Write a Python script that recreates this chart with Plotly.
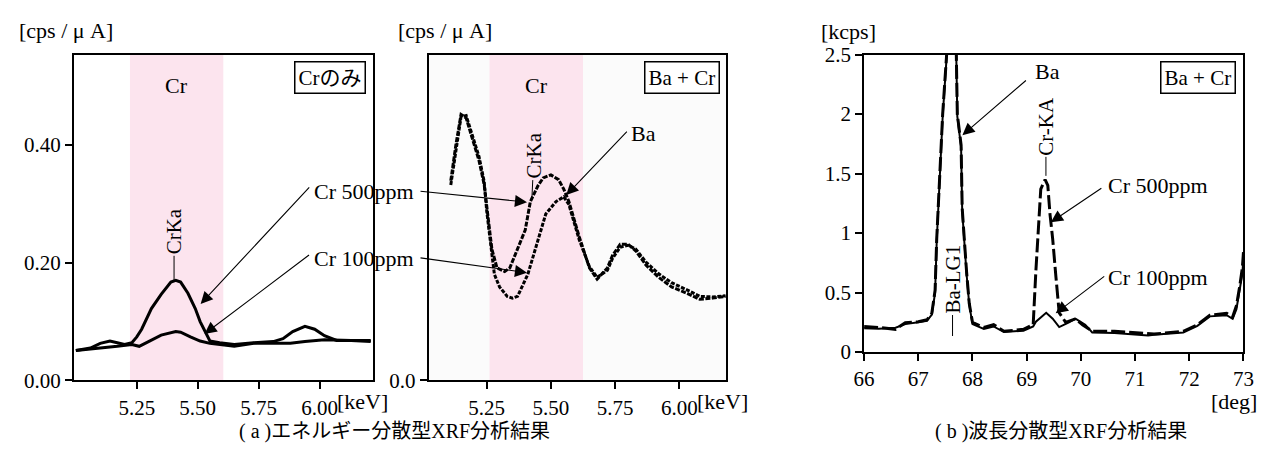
import plotly.graph_objects as go

# ---------------- data ----------------
# (a) EDX, Cr only  [cps/uA] vs [keV]
e1_x_500 = [5.00, 5.06, 5.10, 5.14, 5.17, 5.20, 5.23, 5.25, 5.27, 5.31, 5.35, 5.39, 5.41, 5.43, 5.46, 5.49,
            5.51, 5.53, 5.55, 5.59, 5.65, 5.73, 5.81, 5.85, 5.89, 5.94, 5.98, 6.02, 6.07, 6.13, 6.21]
e1_y_500 = [0.051, 0.055, 0.063, 0.067, 0.064, 0.061, 0.064, 0.074, 0.087, 0.122, 0.146, 0.167, 0.170, 0.167,
            0.148, 0.122, 0.100, 0.082, 0.067, 0.064, 0.061, 0.064, 0.066, 0.071, 0.083, 0.092, 0.087, 0.076,
            0.068, 0.068, 0.066]
e1_x_100 = [5.00, 5.06, 5.10, 5.14, 5.17, 5.20, 5.23, 5.26, 5.30, 5.35, 5.41, 5.43, 5.47, 5.51, 5.55, 5.59,
            5.65, 5.73, 5.88, 5.94, 6.02, 6.13, 6.21]
e1_y_100 = [0.051, 0.054, 0.056, 0.057, 0.058, 0.060, 0.061, 0.058, 0.067, 0.077, 0.083, 0.082, 0.074, 0.067,
            0.063, 0.061, 0.058, 0.063, 0.063, 0.066, 0.069, 0.068, 0.068]

# (a) EDX, Ba + Cr
e2_x_500 = [5.11, 5.13, 5.15, 5.17, 5.19, 5.22, 5.24, 5.25, 5.27, 5.29, 5.32, 5.34, 5.37, 5.40, 5.42, 5.45,
            5.47, 5.50, 5.53, 5.55, 5.57, 5.61, 5.65, 5.68, 5.72, 5.74, 5.77, 5.80, 5.83, 5.87, 5.92, 5.97,
            6.03, 6.08, 6.13, 6.18]
e2_y_500 = [0.337, 0.398, 0.449, 0.443, 0.414, 0.371, 0.331, 0.291, 0.222, 0.190, 0.184, 0.190, 0.222, 0.254,
            0.302, 0.329, 0.342, 0.347, 0.339, 0.323, 0.302, 0.243, 0.190, 0.171, 0.190, 0.211, 0.230, 0.230,
            0.219, 0.195, 0.174, 0.158, 0.147, 0.137, 0.139, 0.142]
e2_x_100 = [5.11, 5.13, 5.15, 5.17, 5.19, 5.22, 5.24, 5.25, 5.27, 5.28, 5.30, 5.33, 5.35, 5.37, 5.41, 5.45,
            5.48, 5.52, 5.55, 5.57, 5.61, 5.65, 5.68, 5.72, 5.74, 5.77, 5.80, 5.83, 5.87, 5.92, 5.97, 6.03,
            6.08, 6.13, 6.18]
e2_y_100 = [0.330, 0.392, 0.445, 0.447, 0.420, 0.378, 0.336, 0.286, 0.214, 0.179, 0.158, 0.142, 0.139, 0.142,
            0.179, 0.238, 0.281, 0.302, 0.310, 0.297, 0.238, 0.192, 0.174, 0.186, 0.206, 0.225, 0.228, 0.222,
            0.200, 0.180, 0.165, 0.153, 0.142, 0.141, 0.143]

# (b) WDX, Ba + Cr  [kcps] vs [deg]
w_x_500 = [66.0, 66.27, 66.58, 66.76, 67.0, 67.16, 67.25, 67.31, 67.34, 67.40, 67.45, 67.52, 67.61, 67.70,
           67.72, 67.79, 67.81, 67.89, 67.94, 68.0, 68.21, 68.39, 68.58, 68.94, 69.12, 69.17, 69.24, 69.26,
           69.34, 69.39, 69.43, 69.48, 69.54, 69.60, 69.72, 69.90, 70.03, 70.21, 70.62, 71.24, 71.35, 71.89,
           72.15, 72.38, 72.69, 72.80, 72.87, 72.93, 72.98, 73.0]
w_y_500 = [0.215, 0.207, 0.191, 0.247, 0.255, 0.271, 0.326, 0.52, 0.95, 1.48, 2.0, 2.48, 3.1, 2.55,
           2.0, 1.74, 1.21, 0.68, 0.41, 0.25, 0.207, 0.231, 0.175, 0.191, 0.23, 0.685, 1.21, 1.37,
           1.45, 1.40, 1.16, 0.95, 0.63, 0.33, 0.25, 0.28, 0.23, 0.175, 0.175, 0.151, 0.151, 0.175,
           0.23, 0.31, 0.326, 0.295, 0.39, 0.55, 0.71, 0.84]
w_x_100 = [66.0, 66.27, 66.58, 66.76, 67.0, 67.16, 67.25, 67.31, 67.34, 67.40, 67.45, 67.52, 67.61, 67.70,
           67.72, 67.79, 67.81, 67.89, 67.94, 68.0, 68.21, 68.39, 68.58, 68.94, 69.12, 69.17, 69.36, 69.48,
           69.60, 69.78, 69.90, 70.08, 70.21, 70.62, 71.24, 71.35, 71.89, 72.15, 72.38, 72.69, 72.80, 72.87,
           72.93, 72.98, 73.0]
w_y_100 = [0.200, 0.195, 0.205, 0.235, 0.250, 0.262, 0.315, 0.50, 0.93, 1.46, 1.98, 2.46, 3.05, 2.52,
           1.98, 1.72, 1.19, 0.66, 0.40, 0.235, 0.195, 0.215, 0.168, 0.180, 0.215, 0.255, 0.33, 0.28,
           0.21, 0.25, 0.28, 0.23, 0.165, 0.160, 0.140, 0.145, 0.165, 0.22, 0.30, 0.31, 0.28, 0.36,
           0.52, 0.66, 0.80]

e1_ticks = [5.25, 5.50, 5.75, 6.00]
e1_ticktext = ["5.25", "5.50", "5.75", "6.00"]
e1_yticks = [0.0, 0.2, 0.4]
e1_yticktext = ["0.00", "0.20", "0.40"]
e2_yticks = [0.0]
e2_yticktext = ["0.0"]
w_xticks = [66, 67, 68, 69, 70, 71, 72, 73]
w_yticks = [0, 0.5, 1, 1.5, 2, 2.5]
w_yticktext = ["0", "0.5", "1", "1.5", "2", "2.5"]

cr_band_1 = [5.222, 5.605]
cr_band_2 = [5.261, 5.625]

# ---------------- layout helpers ----------------
W, H = 1281, 455
FONT = "Liberation Serif, Noto Sans CJK JP, serif"
JFONT = "Liberation Serif, Noto Sans CJK JP, sans-serif"
FS = 21


def pxx(p):
    return p / W


def pxy(p):
    return 1 - p / H


fig = go.Figure()

fig.add_trace(go.Scatter(x=e1_x_500, y=e1_y_500, mode="lines", line=dict(color="black", width=3),
                         xaxis="x", yaxis="y"))
fig.add_trace(go.Scatter(x=e1_x_100, y=e1_y_100, mode="lines", line=dict(color="black", width=3),
                         xaxis="x", yaxis="y"))
fig.add_trace(go.Scatter(x=e2_x_500, y=e2_y_500, mode="lines",
                         line=dict(color="black", width=3, dash="5px,1.5px"), xaxis="x2", yaxis="y2"))
fig.add_trace(go.Scatter(x=e2_x_100, y=e2_y_100, mode="lines",
                         line=dict(color="black", width=3, dash="4px,1.5px"), xaxis="x2", yaxis="y2"))
fig.add_trace(go.Scatter(x=w_x_100, y=w_y_100, mode="lines",
                         line=dict(color="black", width=2), xaxis="x3", yaxis="y3"))
fig.add_trace(go.Scatter(x=w_x_500, y=w_y_500, mode="lines",
                         line=dict(color="black", width=3, dash="14px,4px"), xaxis="x3", yaxis="y3"))

axis_common = dict(showline=True, linecolor="black", linewidth=2, mirror=True, ticks="outside",
                   ticklen=7, tickwidth=1.5, tickcolor="black", showgrid=False, zeroline=False,
                   tickfont=dict(family=FONT, size=FS, color="black"), fixedrange=True)

dom_y12 = [pxy(389), pxy(45)]
dom_y3 = [pxy(359), pxy(45)]

fig.update_layout(
    width=W, height=H, margin=dict(l=0, r=0, t=0, b=0), showlegend=False,
    paper_bgcolor="white", plot_bgcolor="white",
    xaxis=dict(axis_common, domain=[pxx(64), pxx(368)], range=[4.992, 6.218], tickvals=e1_ticks,
               ticktext=e1_ticktext, anchor="y"),
    yaxis=dict(axis_common, domain=dom_y12, range=[0, 0.553], tickvals=e1_yticks,
               ticktext=e1_yticktext, anchor="x"),
    xaxis2=dict(axis_common, domain=[pxx(425), pxx(728)], range=[5.024, 6.184], tickvals=e1_ticks,
                ticktext=e1_ticktext, anchor="y2"),
    yaxis2=dict(axis_common, domain=dom_y12, range=[0, 0.55], tickvals=e2_yticks,
                ticktext=e2_yticktext, anchor="x2"),
    xaxis3=dict(axis_common, domain=[pxx(868), pxx(1254)], range=[66, 73], tickvals=w_xticks,
                anchor="y3"),
    yaxis3=dict(axis_common, domain=dom_y3, range=[0, 2.5], tickvals=w_yticks,
                ticktext=w_yticktext, anchor="x3"),
)

shapes = [
    dict(type="rect", xref="x2 domain", yref="y2 domain", x0=0, x1=1, y0=0, y1=1,
         fillcolor="#fbfbfb", line=dict(width=0), layer="below"),
    dict(type="rect", xref="x", yref="y domain", x0=cr_band_1[0], x1=cr_band_1[1], y0=0, y1=1,
         fillcolor="#fce4ee", line=dict(width=0), layer="below"),
    dict(type="rect", xref="x2", yref="y2 domain", x0=cr_band_2[0], x1=cr_band_2[1], y0=0, y1=1,
         fillcolor="#fce4ee", line=dict(width=0), layer="below"),
]
fig.update_layout(shapes=shapes)

ann = []


def text(s, x, y, xanchor="center", yanchor="middle", size=FS, family=FONT, **kw):
    ann.append(dict(text=s, x=pxx(x), y=pxy(y), xref="paper", yref="paper", xanchor=xanchor,
                    yanchor=yanchor, showarrow=False, font=dict(family=family, size=size, color="black"),
                    **kw))


def arrow(xa, ya, x, y, ax, ay):
    ann.append(dict(text="", x=x, y=y, xref=xa, yref=ya, ax=ax, ay=ay, axref="pixel", ayref="pixel",
                    showarrow=True, arrowhead=2, arrowsize=2.2, arrowwidth=1.1, arrowcolor="black",
                    standoff=0))


def leader(s, xa, ya, x, y, ax, ay):
    ann.append(dict(text=s, x=x, y=y, xref=xa, yref=ya, ax=ax, ay=ay, axref="pixel", ayref="pixel",
                    showarrow=True, arrowhead=0, arrowwidth=1, arrowcolor="black", textangle=-90,
                    standoff=0, font=dict(family=FONT, size=FS, color="black")))


# axis unit labels
text("[cps / μ A]", 6, 20, xanchor="left", size=22)
text("[cps / μ A]", 392, 20, xanchor="left", size=22)
text("[kcps]", 822, 21, xanchor="left", size=22)
text("[keV]", 330, 411, xanchor="left", size=22)
text("[keV]", 696, 411, xanchor="left", size=22)
text("[deg]", 1270, 411, xanchor="right", size=22)

# band labels and boxes
text("Cr", 168, 78, size=22)
text("Cr", 535, 78, size=22)
for s, xr in (("Crのみ", 361), ("Ba + Cr", 721), ("Ba + Cr", 1246)):
    ann.append(dict(text=s, x=pxx(xr), y=pxy(52), xref="paper", yref="paper", xanchor="right",
                    yanchor="top", showarrow=False, bordercolor="black", borderwidth=1.5, borderpad=3,
                    bgcolor="white", font=dict(family=FONT, size=FS, color="black")))

# series labels
text("Cr 500ppm", 306, 190, xanchor="left", size=22)
text("Cr 100ppm", 306, 260, xanchor="left", size=22)
text("Ba", 629, 128, xanchor="left", size=22)
text("Ba", 1040, 63, xanchor="left", size=22)
text("Cr 500ppm", 1114, 183, xanchor="left", size=22)
text("Cr 100ppm", 1114, 280, xanchor="left", size=22)

# arrows
arrow("x", "y", 5.512, 0.130, 110, -118)
arrow("x", "y", 5.528, 0.079, 106, -80)
arrow("x2", "y2", 5.407, 0.301, -108, -11)
arrow("x2", "y2", 5.407, 0.182, -108, -15)
arrow("x2", "y2", 5.560, 0.313, 62, -65)
arrow("x3", "y3", 67.814, 1.823, 65, -56)
arrow("x3", "y3", 69.446, 1.091, 52, -35)
arrow("x3", "y3", 69.536, 0.326, 50, -38)

# peak leaders
leader("CrKa", "x", "y", 5.403, 0.170, 0, -49)
leader("CrKa", "x2", "y2", 5.426, 0.307, 2, -43)
leader("Cr-KA", "x3", "y3", 69.355, 1.481, 0, -50)
leader("Ba-LG1", "x3", "y3", 67.632, 0.135, 0, -57)

# captions
text("( a )エネルギー分散型XRF分析結果", 390, 443, size=20, family=JFONT)
text("( b )波長分散型XRF分析結果", 1068, 443, size=20, family=JFONT)

fig.update_layout(annotations=ann)
fig.write_html("out.html")
